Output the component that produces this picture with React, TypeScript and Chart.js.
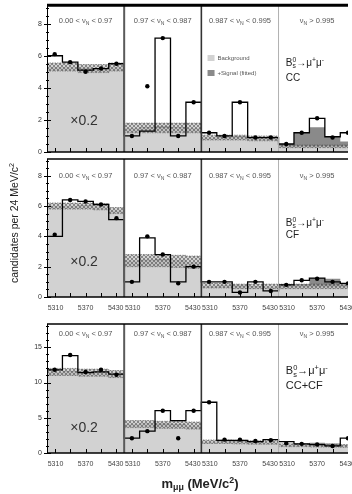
import React, { useEffect, useRef } from "react";
import { Chart, registerables } from "chart.js";

Chart.register(...registerables);

const FONT = '"Liberation Sans", Arial, Helvetica, sans-serif';
Chart.defaults.font.family = FONT;

const BINS_PER_PANEL = 5;
const N_PANELS = 4;
const X_MAX = 19.5;

const panelLabels = ["0.00 < ν_{N} < 0.97", "0.97 < ν_{N} < 0.987", "0.987 < ν_{N} < 0.995", "ν_{N} > 0.995"];
const massTickLabels = ["5310", "5370", "5430"];
const massTickOffsets = [0.55, 2.5, 4.45];
const legendLabels = ["Background", "+Signal (fitted)"];
const decayLabel = "B^{0}_{s}→μ^{+}μ^{-}";
const channelLabels = ["CC", "CF", "CC+CF"];
const scaleNote = "×0.2";
const yAxisTitle = "candidates per 24 MeV/c^{2}";
const xAxisTitle = "m_{μμ} (MeV/c^{2})";

// ---- CC ----
const ccBackground = [5.3, 5.3, 5.2, 5.2, 5.3, 1.5, 1.5, 1.5, 1.5, 1.5, 0.9, 0.9, 0.9, 0.85, 0.85, 0.35, 0.35, 0.35, 0.35, 0.35];
const ccBandErr = [0.25, 0.3, 0.15, 0.08];
const ccSignal = [0, 0, 0.05, 0, 0, 0, 0.05, 0.1, 0.05, 0, 0, 0.05, 0.1, 0.05, 0, 0.15, 0.85, 1.2, 0.6, 0.3];
const ccExpected = [6.0, 5.6, 5.1, 5.2, 5.5, 1.0, 1.3, 7.1, 1.0, 3.1, 1.2, 1.0, 3.1, 0.9, 0.9, 0.5, 1.2, 2.1, 0.95, 1.2];
const ccData = [6.1, 5.6, 5.0, 5.2, 5.5, 1.0, 4.1, 7.1, 1.0, 3.1, 1.2, 1.0, 3.1, 0.9, 0.9, 0.5, 1.2, 2.1, 0.9, 1.2];

// ---- CF ----
const cfBackground = [6.0, 6.0, 6.0, 5.95, 5.7, 2.4, 2.4, 2.4, 2.35, 2.3, 0.75, 0.75, 0.7, 0.7, 0.7, 0.7, 0.7, 0.7, 0.7, 0.7];
const cfBandErr = [0.2, 0.4, 0.15, 0.15];
const cfSignal = [0, 0, 0.05, 0, 0, 0, 0.05, 0.1, 0.05, 0, 0, 0.03, 0.06, 0.03, 0, 0.05, 0.15, 0.55, 0.5, 0.1];
const cfExpected = [4.0, 6.4, 6.3, 6.1, 5.1, 1.0, 3.9, 2.8, 1.0, 2.0, 1.0, 1.0, 0.3, 1.0, 0.4, 0.8, 1.1, 1.25, 1.0, 0.9];
const cfData = [4.1, 6.4, 6.3, 6.1, 5.2, 1.0, 4.0, 2.8, 0.9, 2.0, 1.0, 1.0, 0.3, 1.0, 0.4, 0.8, 1.1, 1.2, 1.0, 0.9];

// ---- CC+CF ----
const allBackground = [11.5, 11.5, 11.4, 11.4, 11.2, 4.1, 4.1, 4.0, 4.0, 3.9, 1.6, 1.6, 1.55, 1.5, 1.5, 1.1, 1.1, 1.05, 1.05, 1.0];
const allBandErr = [0.5, 0.5, 0.25, 0.2];
const allSignal = [0, 0.1, 0.2, 0.1, 0, 0, 0.1, 0.2, 0.1, 0, 0, 0.05, 0.1, 0.05, 0, 0.05, 0.2, 0.4, 0.3, 0.1];
const allExpected = [11.8, 13.8, 11.4, 11.5, 11.2, 2.1, 3.1, 6.0, 4.6, 6.0, 7.2, 1.8, 1.8, 1.6, 1.9, 1.6, 1.3, 1.2, 1.0, 2.1];
const allData = [11.8, 13.9, 11.5, 11.8, 11.1, 2.1, 3.1, 6.0, 2.1, 6.0, 7.2, 1.9, 1.9, 1.7, 1.8, 1.4, 1.3, 1.2, 1.0, 2.1];

type RowSpec = {
  key: string;
  top: number;
  height: number;
  padTop: number;
  xAxisH: number;
  yMax: number;
  yStep: number;
  yMinor: number;
  showX: boolean;
  topW: number;
  bg: number[];
  err: number[];
  sig: number[];
  exp: number[];
  data: number[];
  channel: string;
  labelVal: number;
  noteVal: number;
  decayVals: number[];
  decaySize: number;
  legend?: boolean;
  yTitle?: boolean;
  xTitle?: boolean;
};

const ROWS: RowSpec[] = [
  {
    key: "cc", top: 0, height: 156, padTop: 6, xAxisH: 4, yMax: 9.1, yStep: 2, yMinor: 0.5, showX: false, topW: 3,
    bg: ccBackground, err: ccBandErr, sig: ccSignal, exp: ccExpected, data: ccData, channel: channelLabels[0],
    labelVal: 8.2, noteVal: 2.0, decayVals: [5.6, 4.66], decaySize: 10, legend: true,
  },
  {
    key: "cf", top: 155, height: 165, padTop: 1, xAxisH: 23, yMax: 9.1, yStep: 2, yMinor: 0.5, showX: true, topW: 1.5,
    bg: cfBackground, err: cfBandErr, sig: cfSignal, exp: cfExpected, data: cfData, channel: channelLabels[1],
    labelVal: 8.0, noteVal: 2.4, decayVals: [4.9, 4.1], decaySize: 10, yTitle: true,
  },
  {
    key: "all", top: 320, height: 174, padTop: 3, xAxisH: 41, yMax: 18.3, yStep: 5, yMinor: 1, showX: true, topW: 1.5,
    bg: allBackground, err: allBandErr, sig: allSignal, exp: allExpected, data: allData, channel: channelLabels[2],
    labelVal: 16.9, noteVal: 3.7, decayVals: [11.7, 9.6], decaySize: 11, xTitle: true,
  },
];

const SEPARATORS = [
  { w: 2, c: "#5a5a5a" },
  { w: 1.6, c: "#333" },
  { w: 1, c: "#b0b0b0" },
];

function stepPoints(vals: number[]) {
  const pts = vals.map((v, i) => ({ x: i, y: v }));
  pts.push({ x: vals.length, y: vals[vals.length - 1] });
  return pts;
}

type Tok = { t: string; m: "n" | "sup" | "sub" };
function parseRich(s: string): Tok[] {
  const out: Tok[] = [];
  const re = /(\^|_)\{([^}]*)\}/g;
  let last = 0;
  let mt: RegExpExecArray | null;
  while ((mt = re.exec(s))) {
    if (mt.index > last) out.push({ t: s.slice(last, mt.index), m: "n" });
    out.push({ t: mt[2], m: mt[1] === "^" ? "sup" : "sub" });
    last = re.lastIndex;
  }
  if (last < s.length) out.push({ t: s.slice(last), m: "n" });
  return out;
}

function drawRich(
  ctx: CanvasRenderingContext2D, s: string, x: number, y: number, size: number,
  align: "left" | "center", color: string, weight = "normal"
) {
  const toks = parseRich(s);
  const fontN = `${weight} ${size}px ${FONT}`;
  const fontS = `${weight} ${size * 0.68}px ${FONT}`;
  const items: { t: string; font: string; x: number; dy: number }[] = [];
  let cx = 0;
  let prev: { m: string; x: number; w: number } | null = null;
  for (const tk of toks) {
    const f = tk.m === "n" ? fontN : fontS;
    ctx.font = f;
    const w = ctx.measureText(tk.t).width;
    let ix = cx;
    let adv = w;
    if (tk.m === "sub" && prev && prev.m === "sup") {
      ix = prev.x;
      adv = Math.max(0, w - prev.w);
    }
    const dy = tk.m === "sup" ? -size * 0.38 : tk.m === "sub" ? size * 0.22 : 0;
    items.push({ t: tk.t, font: f, x: ix, dy });
    prev = { m: tk.m, x: ix, w };
    cx += adv;
  }
  const x0 = align === "center" ? x - cx / 2 : x;
  ctx.fillStyle = color;
  ctx.textBaseline = "alphabetic";
  ctx.textAlign = "left";
  for (const it of items) {
    ctx.font = it.font;
    ctx.fillText(it.t, x0 + it.x, y + size * 0.35 + it.dy);
  }
}

function line(ctx: CanvasRenderingContext2D, x1: number, y1: number, x2: number, y2: number) {
  ctx.beginPath();
  ctx.moveTo(x1, y1);
  ctx.lineTo(x2, y2);
  ctx.stroke();
}

function overlayPlugin(spec: RowSpec) {
  return {
    id: "overlay_" + spec.key,
    afterDraw(chart: any) {
      const ctx: CanvasRenderingContext2D = chart.ctx;
      const a = chart.chartArea;
      const xs = chart.scales.x;
      const ys = chart.scales.y;
      const nBins = BINS_PER_PANEL * N_PANELS;
      ctx.save();
      // panel separators
      SEPARATORS.forEach((st, k) => {
        const px = xs.getPixelForValue((k + 1) * BINS_PER_PANEL);
        ctx.strokeStyle = st.c;
        ctx.lineWidth = st.w;
        line(ctx, px, a.top, px, a.bottom);
      });
      // bin ticks
      ctx.strokeStyle = "#000";
      ctx.lineWidth = 1;
      for (let i = 0; i < nBins; i++) {
        const px = Math.round(xs.getPixelForValue(i + 0.5)) + 0.5;
        if (px > a.right) continue;
        line(ctx, px, a.bottom, px, a.bottom - 4);
      }
      // y ticks
      for (let v = 0; v <= spec.yMax + 1e-6; v += spec.yMinor) {
        const py = Math.round(ys.getPixelForValue(v)) + 0.5;
        const r = v / spec.yStep;
        const major = Math.abs(r - Math.round(r)) < 1e-6;
        line(ctx, a.left - (major ? 3 : 1), py, a.left + (major ? 4 : 2), py);
      }
      // frame
      ctx.strokeStyle = "#000";
      ctx.lineWidth = 1;
      line(ctx, a.left + 0.5, a.top, a.left + 0.5, a.bottom);
      ctx.lineWidth = 1.5;
      line(ctx, a.left, a.bottom, a.right, a.bottom);
      ctx.lineWidth = spec.topW;
      line(ctx, a.left, a.top - spec.topW / 2 + 0.75, a.right, a.top - spec.topW / 2 + 0.75);

      // panel labels
      panelLabels.forEach((lab, p) => {
        const px = xs.getPixelForValue(p * BINS_PER_PANEL + BINS_PER_PANEL / 2);
        drawRich(ctx, lab, px, ys.getPixelForValue(spec.labelVal), 7.5, "center", "#555");
      });
      // scale note
      drawRich(ctx, scaleNote, xs.getPixelForValue(2.4), ys.getPixelForValue(spec.noteVal), 14, "center", "#333");
      // decay + channel
      const dx = xs.getPixelForValue(15.47);
      drawRich(ctx, decayLabel, dx, ys.getPixelForValue(spec.decayVals[0]), spec.decaySize, "left", "#222");
      drawRich(ctx, spec.channel, dx, ys.getPixelForValue(spec.decayVals[1]), spec.decaySize, "left", "#222");

      if (spec.legend) {
        const lx = xs.getPixelForValue(10.4);
        const colors = ["#d2d2d2", "#8a8a8a"];
        legendLabels.forEach((lab, k) => {
          const ty = a.top + 49 + k * 15;
          ctx.fillStyle = colors[k];
          ctx.fillRect(lx, ty, 7, 6);
          drawRich(ctx, lab, lx + 10, ty + 3, 6, "left", "#555");
        });
      }
      if (spec.yTitle) {
        ctx.save();
        ctx.translate(14, (a.top + a.bottom) / 2 - 5);
        ctx.rotate(-Math.PI / 2);
        drawRich(ctx, yAxisTitle, 0, 0, 10.5, "center", "#222");
        ctx.restore();
      }
      if (spec.xTitle) {
        drawRich(ctx, xAxisTitle, 200, a.bottom + 30, 13, "center", "#222", "bold");
      }
      ctx.restore();
    },
  };
}

function makeHatch(target: CanvasRenderingContext2D): CanvasPattern | string {
  const pc = document.createElement("canvas");
  pc.width = 4;
  pc.height = 4;
  const g = pc.getContext("2d");
  if (!g) return "rgba(90,90,90,0.5)";
  g.fillStyle = "rgba(175,175,175,0.55)";
  g.fillRect(0, 0, 4, 4);
  g.strokeStyle = "rgba(55,55,55,0.7)";
  g.lineWidth = 0.7;
  g.beginPath();
  g.moveTo(0, 4);
  g.lineTo(4, 0);
  g.moveTo(0, 0);
  g.lineTo(4, 4);
  g.stroke();
  return target.createPattern(pc, "repeat") || "rgba(90,90,90,0.5)";
}

function makeConfig(spec: RowSpec, hatch: CanvasPattern | string): any {
  const errAt = (i: number) => spec.err[Math.floor(i / BINS_PER_PANEL)];
  const bandLo = spec.bg.map((v, i) => v - errAt(i));
  const bandHi = spec.bg.map((v, i) => v + errAt(i));
  const sigTop = spec.bg.map((v, i) => v + spec.sig[i]);
  const tickVals: number[] = [];
  for (let p = 0; p < N_PANELS; p++) massTickOffsets.forEach((o) => tickVals.push(p * BINS_PER_PANEL + o));
  const clear = "rgba(0,0,0,0)";
  const STEP = "before";

  return {
    type: "line",
    data: {
      datasets: [
        {
          label: "data",
          data: spec.data.map((v, i) => ({ x: i + 0.5, y: v })),
          showLine: false,
          pointRadius: 2.2,
          pointBackgroundColor: "#000",
          pointBorderColor: "#000",
          pointBorderWidth: 0,
        },
        {
          label: "expected",
          data: stepPoints(spec.exp),
          stepped: STEP,
          borderColor: "#000",
          borderWidth: 1.3,
          pointRadius: 0,
          fill: false,
        },
        {
          label: "bandHi",
          data: stepPoints(bandHi),
          stepped: STEP,
          borderColor: "rgba(60,60,60,0.7)",
          borderWidth: 0.7,
          borderDash: [1.5, 1],
          pointRadius: 0,
          fill: 3,
          backgroundColor: hatch,
        },
        {
          label: "bandLo",
          data: stepPoints(bandLo),
          stepped: STEP,
          borderColor: "rgba(60,60,60,0.7)",
          borderWidth: 0.7,
          borderDash: [1.5, 1],
          pointRadius: 0,
          fill: false,
        },
        {
          label: "signal",
          data: stepPoints(sigTop),
          stepped: STEP,
          borderColor: clear,
          borderWidth: 1,
          pointRadius: 0,
          fill: 5,
          backgroundColor: "#8a8a8a",
        },
        {
          label: "background",
          data: stepPoints(spec.bg),
          stepped: STEP,
          borderColor: clear,
          borderWidth: 1,
          pointRadius: 0,
          fill: "origin",
          backgroundColor: "#d2d2d2",
        },
      ],
    },
    options: {
      animation: false,
      responsive: false,
      events: [],
      layout: { padding: { top: spec.padTop, left: 0, right: 0, bottom: 0 } },
      elements: { line: { tension: 0 } },
      plugins: { legend: { display: false }, tooltip: { enabled: false } },
      scales: {
        x: {
          type: "linear",
          min: 0,
          max: X_MAX,
          grid: { display: false, drawTicks: false },
          border: { display: false },
          afterBuildTicks: (s: any) => {
            s.ticks = tickVals.map((v) => ({ value: v }));
          },
          afterFit: (s: any) => {
            s.height = spec.xAxisH;
            s.paddingLeft = 0;
            s.paddingRight = 0;
          },
          ticks: {
            display: spec.showX,
            autoSkip: false,
            maxRotation: 0,
            minRotation: 0,
            padding: 7,
            font: { size: 7, family: FONT },
            color: "#444",
            callback: (_v: any, i: number) => massTickLabels[i % massTickLabels.length],
          },
        },
        y: {
          type: "linear",
          min: 0,
          max: spec.yMax,
          grid: { display: false, drawTicks: false },
          border: { display: false },
          afterFit: (s: any) => {
            s.width = 47;
            s.paddingTop = 0;
            s.paddingBottom = 0;
          },
          ticks: {
            stepSize: spec.yStep,
            includeBounds: false,
            padding: 5,
            font: { size: 7, family: FONT },
            color: "#333",
          },
        },
      },
    },
    plugins: [overlayPlugin(spec)],
  };
}

export default function App() {
  const r0 = useRef<HTMLCanvasElement>(null);
  const r1 = useRef<HTMLCanvasElement>(null);
  const r2 = useRef<HTMLCanvasElement>(null);
  const refs = [r0, r1, r2];

  useEffect(() => {
    const charts: Chart[] = [];
    ROWS.forEach((spec, i) => {
      const cv = refs[i].current;
      if (!cv) return;
      const ctx = cv.getContext("2d");
      if (!ctx) return;
      charts.push(new Chart(cv, makeConfig(spec, makeHatch(ctx))));
    });
    return () => charts.forEach((c) => c.destroy());
  }, []);

  return (
    <div style={{ position: "fixed", left: 0, top: 0, width: 352, height: 494, overflow: "hidden", background: "#fff" }}>
      {ROWS.map((r, i) => (
        <canvas
          key={r.key}
          ref={refs[i]}
          width={352}
          height={r.height}
          style={{ position: "absolute", left: 0, top: r.top, width: 352, height: r.height }}
        />
      ))}
    </div>
  );
}
